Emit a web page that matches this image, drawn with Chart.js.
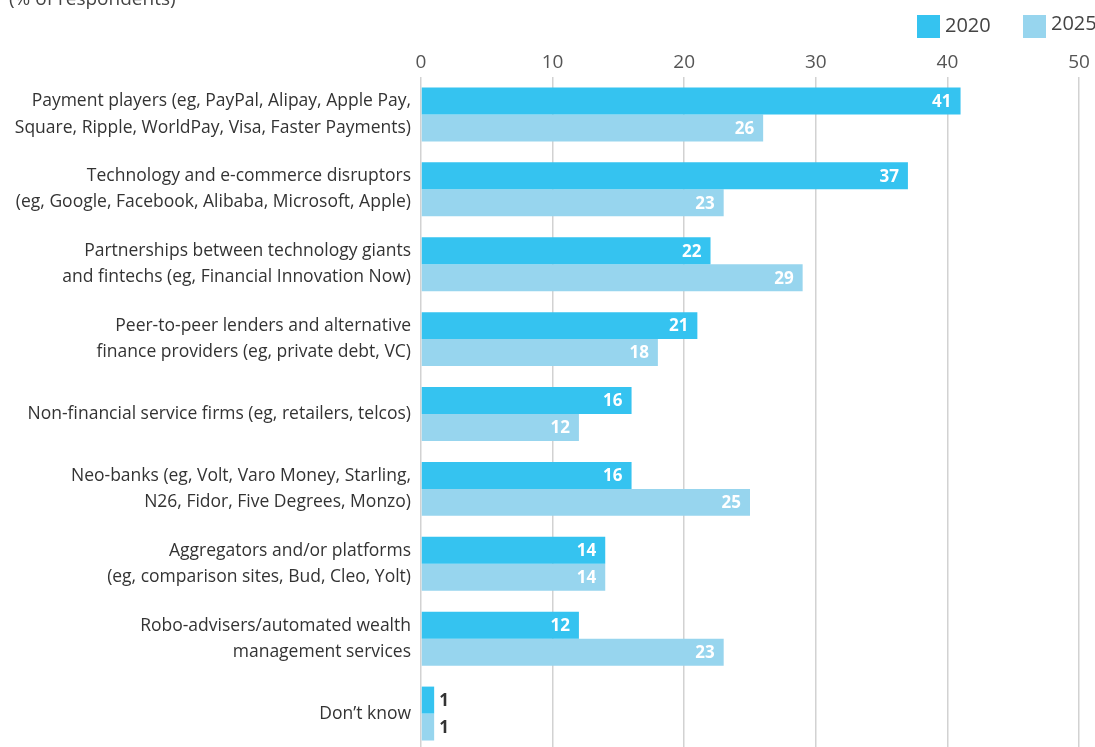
<!DOCTYPE html>
<html>
<head>
<meta charset="utf-8">
<script src="https://cdn.jsdelivr.net/npm/chart.js@4.4.0/dist/chart.umd.min.js"></script>
<style>
  html, body { margin: 0; padding: 0; background: #fff; overflow: hidden; }
  #wrap { position: relative; width: 1095px; height: 747px; overflow: hidden; }
  #subtitle { position: absolute; left: 9px; top: -15px; font: 19px "Open Sans", sans-serif; color: #444; }
  #legend { position: absolute; top: 15px; left: 917px; font: 20px "Open Sans", sans-serif; color: #444; }
  .item { position: absolute; top: 0; white-space: nowrap; }
  .box { display: inline-block; width: 23px; height: 23px; vertical-align: top; }
  .lab { position: absolute; left: 28px; top: -4px; }
  #chart { position: absolute; left: 0; top: 0; }
</style>
</head>
<body>
<div id="wrap">
  <canvas id="chart" width="1095" height="760"></canvas>
  <div id="subtitle">(% of respondents)</div>
  <div id="legend">
    <div class="item" style="left:0"><span class="box" style="background:#35c3f0"></span><span class="lab">2020</span></div>
    <div class="item" style="left:106px"><span class="box" style="background:#97d5ee"></span><span class="lab" style="top:-6px">2025</span></div>
  </div>
</div>
<script>
// Catégories (libellés sur plusieurs lignes)
const categories = [
  ['Payment players (eg, PayPal, Alipay, Apple Pay,', 'Square, Ripple, WorldPay, Visa, Faster Payments)'],
  ['Technology and e-commerce disruptors', '(eg, Google, Facebook, Alibaba, Microsoft, Apple)'],
  ['Partnerships between technology giants', 'and fintechs (eg, Financial Innovation Now)'],
  ['Peer-to-peer lenders and alternative', 'finance providers (eg, private debt, VC)'],
  'Non-financial service firms (eg, retailers, telcos)',
  ['Neo-banks (eg, Volt, Varo Money, Starling,', 'N26, Fidor, Five Degrees, Monzo)'],
  ['Aggregators and/or platforms', '(eg, comparison sites, Bud, Cleo, Yolt)'],
  ['Robo-advisers/automated wealth', 'management services'],
  "Don’t know"
];
const values2020 = [41, 37, 22, 21, 16, 16, 14, 12, 1];
const values2025 = [26, 23, 29, 18, 12, 25, 14, 23, 1];
const xTicks = [0, 10, 20, 30, 40, 50];

const FONT = '"Open Sans", sans-serif';

// Plugin pour écrire les valeurs au bout des barres
const valueLabels = {
  id: 'valueLabels',
  afterDatasetsDraw(chart) {
    const ctx = chart.ctx;
    ctx.save();
    ctx.font = 'bold 17px ' + FONT;
    ctx.textBaseline = 'middle';
    chart.data.datasets.forEach((ds, i) => {
      chart.getDatasetMeta(i).data.forEach((bar, j) => {
        const v = ds.data[j];
        const w = bar.x - bar.base;
        if (w > 30) {
          ctx.fillStyle = '#fff';
          ctx.textAlign = 'right';
          ctx.fillText(v, bar.x - 9, bar.y + 1);
        } else {
          ctx.fillStyle = '#333';
          ctx.textAlign = 'left';
          ctx.fillText(v, bar.x + 5, bar.y + 1);
        }
      });
    });
    ctx.restore();
  }
};

new Chart(document.getElementById('chart'), {
  type: 'bar',
  data: {
    labels: categories,
    datasets: [{
      label: '2020',
      data: values2020,
      backgroundColor: '#35c3f0',
      categoryPercentage: 0.72,
      barPercentage: 1
    }, {
      label: '2025',
      data: values2025,
      backgroundColor: '#97d5ee',
      categoryPercentage: 0.72,
      barPercentage: 1
    }]
  },
  options: {
    indexAxis: 'y',
    responsive: false,
    animation: false,
    layout: { padding: { top: 40, right: 16, bottom: 9, left: 0 } },
    plugins: {
      legend: { display: false },
      title: { display: false },
      tooltip: { enabled: false }
    },
    scales: {
      x: {
        position: 'top',
        min: 0, max: 50,
        afterBuildTicks: s => { s.ticks = xTicks.map(v => ({ value: v })); },
        afterFit: s => { s.height = 37; },
        grid: { color: '#d2d2d2', lineWidth: 1.5, drawTicks: false },
        border: { display: false },
        ticks: { padding: 3, color: '#555', font: { family: FONT, size: 19 } }
      },
      y: {
        afterFit: s => { s.width = 421; s.paddingTop = 0; s.paddingBottom = 0; },
        grid: { display: false, drawTicks: false },
        border: { display: false },
        ticks: { padding: 10, color: '#333', font: { family: FONT, size: 17.5, lineHeight: 1.5 } }
      }
    }
  },
  plugins: [valueLabels]
});
</script>
</body>
</html>
